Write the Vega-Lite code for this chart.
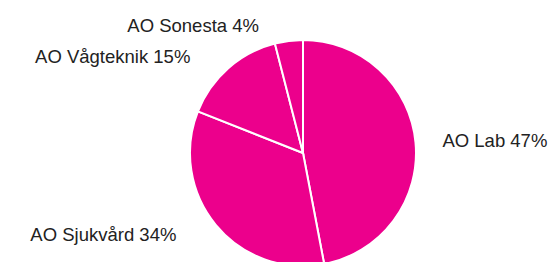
{
  "$schema": "https://vega.github.io/schema/vega-lite/v6.json",
  "autosize": "none",
  "width": 502,
  "height": 218,
  "padding": {"left": 52, "top": 44, "right": 0, "bottom": 0},
  "background": "white",
  "config": {"view": {"stroke": null}},
  "data": {
    "values": [
      {"category": "AO Lab", "value": 47, "label": "AO Lab 47%", "side": "right"},
      {"category": "AO Sjukvård", "value": 34, "label": "AO Sjukvård 34%", "side": "left"},
      {"category": "AO Vågteknik", "value": 15, "label": "AO Vågteknik 15%", "side": "left"},
      {"category": "AO  Sonesta", "value": 4, "label": "AO  Sonesta 4%", "side": "left"}
    ]
  },
  "encoding": {
    "theta": {"field": "value", "type": "quantitative", "stack": true},
    "order": {"field": "value", "sort": "descending"}
  },
  "layer": [
    {
      "mark": {"type": "arc", "outerRadius": 113, "fill": "#EC008C", "stroke": "white", "strokeWidth": 2}
    },
    {
      "mark": {"type": "text", "radius": 128, "dx": 12, "align": "left", "baseline": "middle", "font": "Liberation Sans", "fontSize": 18.5, "fill": "#222222"},
      "encoding": {"text": {"condition": {"test": "datum.side === 'right'", "field": "label"}, "value": ""}}
    },
    {
      "mark": {"type": "text", "radius": 128, "dx": -28, "align": "right", "baseline": "middle", "font": "Liberation Sans", "fontSize": 18.5, "fill": "#222222"},
      "encoding": {"text": {"condition": {"test": "datum.side === 'left'", "field": "label"}, "value": ""}}
    }
  ]
}
